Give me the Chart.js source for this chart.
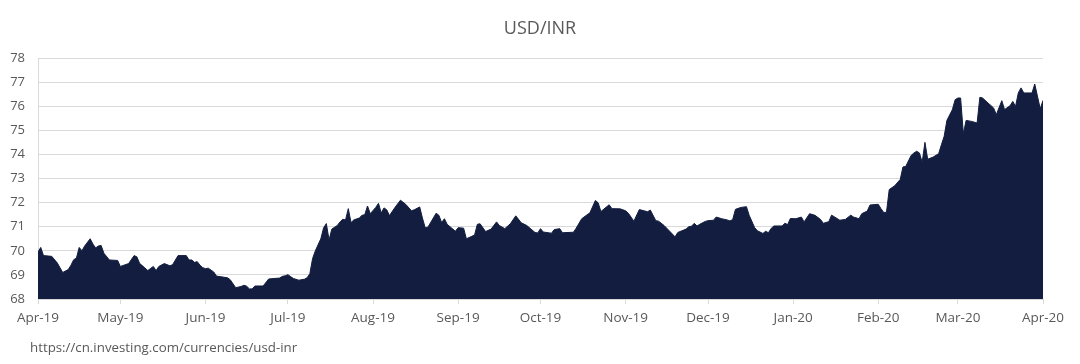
<!DOCTYPE html>
<html><head><meta charset="utf-8">
<script src="https://cdn.jsdelivr.net/npm/chart.js@4"></script>
<style>
html,body{margin:0;padding:0;background:#fff;}
#wrap{position:relative;width:1080px;height:364px;overflow:hidden;}
canvas{position:absolute;left:0;top:0;}
#title{position:absolute;left:0;top:14px;width:1080px;text-align:center;font:18px "Open Sans",sans-serif;color:#595959;line-height:26px;}
#src{position:absolute;left:30px;top:337px;font:13.3px "Open Sans",sans-serif;color:#595959;line-height:20px;}
</style></head><body>
<div id="wrap">
<canvas id="c" width="1080" height="364"></canvas>
<div id="title">USD/INR</div>
<div id="src">https://cn.investing.com/currencies/usd-inr</div>
</div>
<script>
// days since 2019-04-01
const dayOffsets = [0,1,2,5,7,9,11,12,13,14,15,16,17,19,20,21,22,23,24,26,29,30,33,35,36,37,40,41,42,43,44,46,48,49,51,54,55,56,57,58,59,60,61,62,64,65,69,70,72,74,75,76,77,78,79,82,84,88,89,90,91,92,93,95,97,98,99,100,101,103,104,105,106,107,109,110,111,112,113,114,115,117,118,119,120,121,123,124,125,126,127,128,130,132,134,136,137,139,140,141,142,145,146,147,148,149,152,153,155,156,158,159,160,161,163,165,167,168,170,172,174,176,178,181,182,183,184,187,188,190,191,195,196,198,201,203,204,205,208,209,212,214,215,217,219,222,223,225,226,228,232,233,236,237,238,239,240,241,243,244,246,247,249,251,252,253,254,256,258,259,261,262,264,265,266,267,268,271,272,273,274,276,278,279,281,283,285,286,288,289,292,294,296,297,299,300,302,303,306,307,308,309,310,312,314,315,316,318,319,320,321,322,323,324,326,328,329,330,331,333,334,335,336,337,338,340,342,343,344,346,348,349,351,352,354,355,356,357,358,359,362,363,365,366];
const rates = [69.95,70.14,69.8,69.77,69.5,69.1,69.22,69.4,69.63,69.7,70.14,70.0,70.2,70.5,70.28,70.12,70.2,70.22,69.9,69.62,69.6,69.35,69.47,69.8,69.75,69.48,69.18,69.27,69.35,69.18,69.35,69.47,69.38,69.42,69.8,69.8,69.62,69.62,69.52,69.55,69.4,69.3,69.26,69.28,69.12,68.95,68.88,68.8,68.47,68.52,68.57,68.53,68.42,68.42,68.54,68.54,68.83,68.87,68.94,68.96,69.01,68.93,68.85,68.78,68.82,68.88,69.05,69.68,70.0,70.5,70.95,71.13,70.45,70.9,71.05,71.2,71.31,71.28,71.75,71.17,71.28,71.36,71.47,71.5,71.86,71.54,71.8,71.97,71.57,71.78,71.7,71.46,71.8,72.1,71.92,71.66,71.7,71.82,71.36,70.96,70.98,71.56,71.47,71.17,71.33,71.1,70.81,70.96,70.94,70.5,70.6,70.66,71.1,71.12,70.8,70.9,71.2,71.05,70.92,71.12,71.45,71.16,71.05,70.76,70.74,70.92,70.78,70.73,70.88,70.92,70.75,70.77,70.94,71.33,71.58,72.09,71.99,71.63,71.91,71.75,71.74,71.66,71.56,71.23,71.71,71.62,71.69,71.25,71.23,71.05,70.58,70.76,70.9,71.0,71.02,71.14,71.03,71.1,71.22,71.25,71.27,71.4,71.33,71.28,71.24,71.3,71.72,71.8,71.83,71.47,70.96,70.83,70.72,70.81,70.75,70.93,71.03,71.03,71.14,71.09,71.34,71.33,71.4,71.2,71.54,71.47,71.3,71.14,71.21,71.48,71.27,71.3,71.48,71.4,71.33,71.54,71.65,71.9,71.93,71.75,71.59,71.6,72.54,72.7,72.96,73.48,73.5,73.96,74.06,74.13,74.06,73.67,74.5,73.8,73.89,74.03,74.4,74.75,75.41,75.86,76.27,76.34,76.34,74.86,75.41,75.37,75.3,76.37,76.34,76.13,75.93,75.65,76.23,75.86,76.02,76.2,75.99,76.55,76.76,76.55,76.55,76.92,75.89,76.24];
const monthLabels = ['Apr-19','May-19','Jun-19','Jul-19','Aug-19','Sep-19','Oct-19','Nov-19','Dec-19','Jan-20','Feb-20','Mar-20','Apr-20'];
const yMin = 68, yMax = 78, yStep = 1;

const startDate = Date.UTC(2019,3,1);
const monthDays = monthLabels.map((_,i)=>(Date.UTC(2019,3+i,1)-startDate)/86400000);
const txt = '#595959', grid = '#d9d9d9';
const fnt = {family:'"Open Sans", sans-serif', size:13};
const xfnt = {family:'"Open Sans", sans-serif', size:13.5};

new Chart(document.getElementById('c'), {
  type:'line',
  data:{datasets:[{
    data: dayOffsets.map((d,i)=>({x:d,y:rates[i]})),
    fill:'start',
    backgroundColor:'#121d3f',
    borderColor:'#121d3f',
    borderWidth:1,
    pointRadius:0,
    tension:0
  }]},
  options:{
    responsive:false,
    animation:false,
    devicePixelRatio:1,
    layout:{padding:{top:58,right:37,bottom:0,left:0}},
    plugins:{legend:{display:false},tooltip:{enabled:false},title:{display:false}},
    scales:{
      x:{
        type:'linear',
        min:monthDays[0], max:monthDays[monthDays.length-1],
        afterBuildTicks:s=>{s.ticks = monthDays.map(v=>({value:v}));},
        afterFit:s=>{s.height = 65;},
        ticks:{autoSkip:false,maxRotation:0,padding:6,color:txt,font:xfnt,
          callback:(v,i)=>monthLabels[i]},
        grid:{drawOnChartArea:false,drawTicks:true,tickLength:5,color:grid},
        border:{display:true,color:grid}
      },
      y:{
        min:yMin,max:yMax,
        afterFit:s=>{s.width = 38;},
        ticks:{stepSize:yStep,padding:13,color:txt,font:fnt},
        grid:{color:grid,drawTicks:false},
        border:{display:true,color:grid}
      }
    }
  }
});
</script>
</body></html>
